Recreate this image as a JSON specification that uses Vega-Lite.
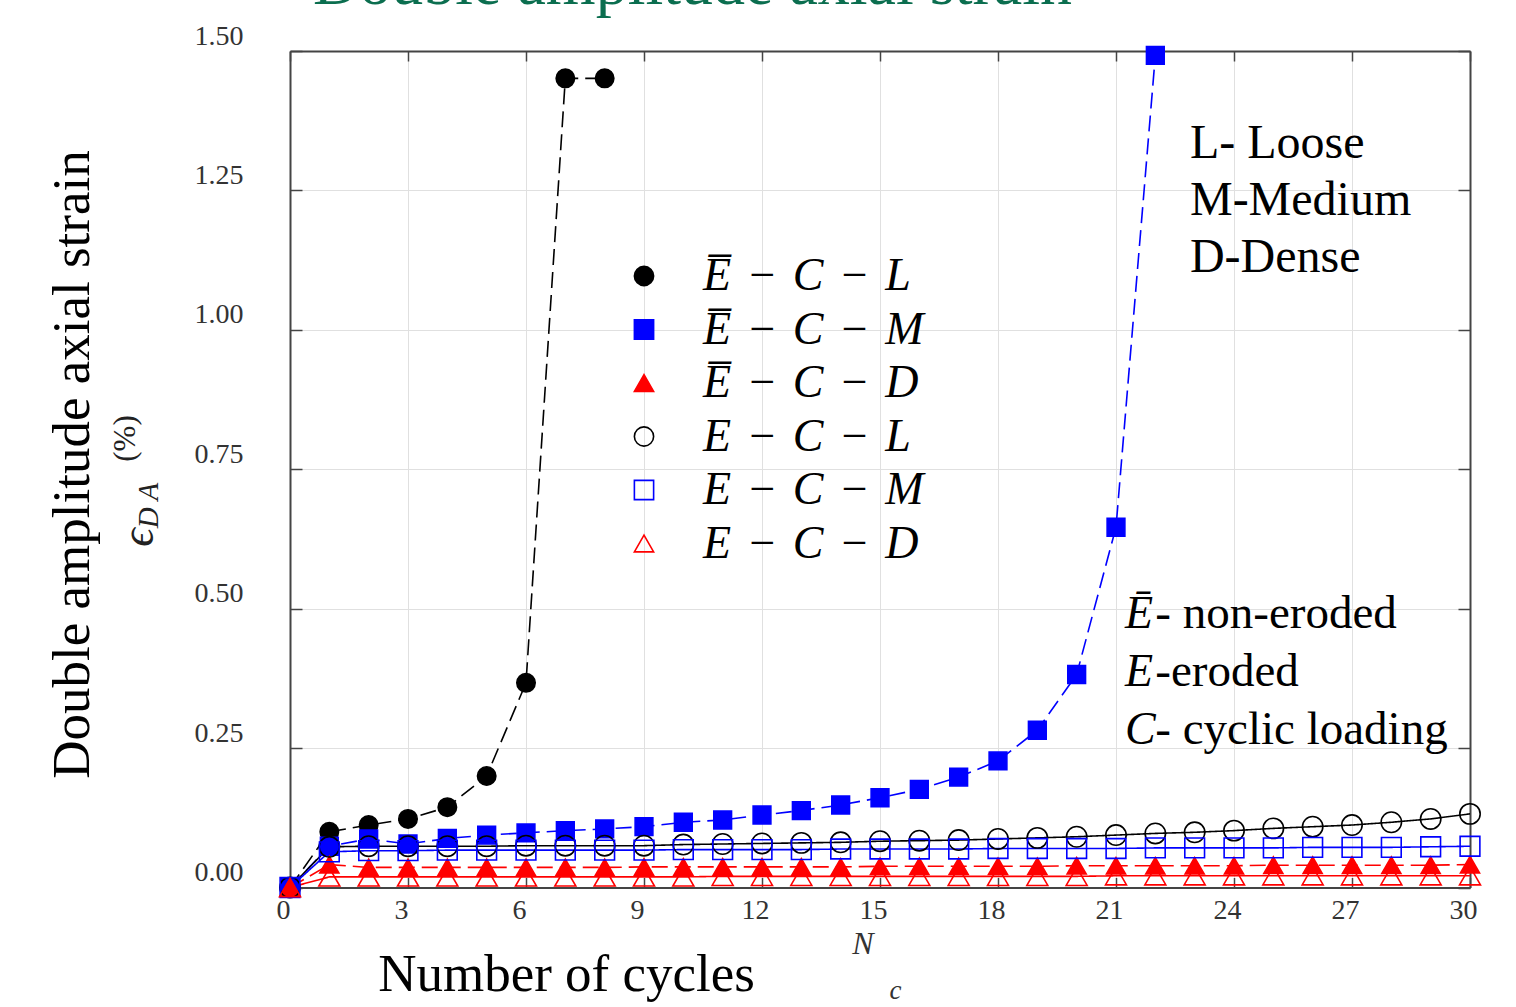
{
  "$schema": "https://vega.github.io/schema/vega-lite/v6.json",
  "width": 1180,
  "height": 836.5,
  "autosize": {"type": "none"},
  "padding": {"left": 290, "top": 51, "right": 46, "bottom": 119.5},
  "background": "white",
  "config": {
    "view": {"stroke": null},
    "font": "Liberation Serif",
    "axis": {"titleFontWeight": "normal", "labelFont": "Liberation Serif", "titleFont": "Liberation Serif"}
  },
  "data": {
    "values": [
      {"series": "E\u0305-C-L", "N": 0, "strain": 0},
      {"series": "E\u0305-C-L", "N": 1, "strain": 0.100},
      {"series": "E\u0305-C-L", "N": 2, "strain": 0.112},
      {"series": "E\u0305-C-L", "N": 3, "strain": 0.123},
      {"series": "E\u0305-C-L", "N": 4, "strain": 0.144},
      {"series": "E\u0305-C-L", "N": 5, "strain": 0.200},
      {"series": "E\u0305-C-L", "N": 6, "strain": 0.367},
      {"series": "E\u0305-C-L", "N": 7, "strain": 1.451},
      {"series": "E\u0305-C-L", "N": 8, "strain": 1.451},

      {"series": "E\u0305-C-M", "N": 0, "strain": 0},
      {"series": "E\u0305-C-M", "N": 1, "strain": 0.074},
      {"series": "E\u0305-C-M", "N": 2, "strain": 0.087},
      {"series": "E\u0305-C-M", "N": 3, "strain": 0.078},
      {"series": "E\u0305-C-M", "N": 4, "strain": 0.088},
      {"series": "E\u0305-C-M", "N": 5, "strain": 0.094},
      {"series": "E\u0305-C-M", "N": 6, "strain": 0.098},
      {"series": "E\u0305-C-M", "N": 7, "strain": 0.102},
      {"series": "E\u0305-C-M", "N": 8, "strain": 0.105},
      {"series": "E\u0305-C-M", "N": 9, "strain": 0.109},
      {"series": "E\u0305-C-M", "N": 10, "strain": 0.117},
      {"series": "E\u0305-C-M", "N": 11, "strain": 0.121},
      {"series": "E\u0305-C-M", "N": 12, "strain": 0.130},
      {"series": "E\u0305-C-M", "N": 13, "strain": 0.138},
      {"series": "E\u0305-C-M", "N": 14, "strain": 0.148},
      {"series": "E\u0305-C-M", "N": 15, "strain": 0.161},
      {"series": "E\u0305-C-M", "N": 16, "strain": 0.176},
      {"series": "E\u0305-C-M", "N": 17, "strain": 0.198},
      {"series": "E\u0305-C-M", "N": 18, "strain": 0.227},
      {"series": "E\u0305-C-M", "N": 19, "strain": 0.282},
      {"series": "E\u0305-C-M", "N": 20, "strain": 0.382},
      {"series": "E\u0305-C-M", "N": 21, "strain": 0.646},
      {"series": "E\u0305-C-M", "N": 22, "strain": 1.492},

      {"series": "E\u0305-C-D", "N": 0, "strain": 0},
      {"series": "E\u0305-C-D", "N": 1, "strain": 0.041},
      {"series": "E\u0305-C-D", "N": 2, "strain": 0.036},
      {"series": "E\u0305-C-D", "N": 3, "strain": 0.036},
      {"series": "E\u0305-C-D", "N": 4, "strain": 0.036},
      {"series": "E\u0305-C-D", "N": 5, "strain": 0.036},
      {"series": "E\u0305-C-D", "N": 6, "strain": 0.036},
      {"series": "E\u0305-C-D", "N": 7, "strain": 0.036},
      {"series": "E\u0305-C-D", "N": 8, "strain": 0.036},
      {"series": "E\u0305-C-D", "N": 9, "strain": 0.037},
      {"series": "E\u0305-C-D", "N": 10, "strain": 0.037},
      {"series": "E\u0305-C-D", "N": 11, "strain": 0.037},
      {"series": "E\u0305-C-D", "N": 12, "strain": 0.037},
      {"series": "E\u0305-C-D", "N": 13, "strain": 0.037},
      {"series": "E\u0305-C-D", "N": 14, "strain": 0.037},
      {"series": "E\u0305-C-D", "N": 15, "strain": 0.038},
      {"series": "E\u0305-C-D", "N": 16, "strain": 0.038},
      {"series": "E\u0305-C-D", "N": 17, "strain": 0.038},
      {"series": "E\u0305-C-D", "N": 18, "strain": 0.038},
      {"series": "E\u0305-C-D", "N": 19, "strain": 0.038},
      {"series": "E\u0305-C-D", "N": 20, "strain": 0.039},
      {"series": "E\u0305-C-D", "N": 21, "strain": 0.039},
      {"series": "E\u0305-C-D", "N": 22, "strain": 0.039},
      {"series": "E\u0305-C-D", "N": 23, "strain": 0.039},
      {"series": "E\u0305-C-D", "N": 24, "strain": 0.039},
      {"series": "E\u0305-C-D", "N": 25, "strain": 0.040},
      {"series": "E\u0305-C-D", "N": 26, "strain": 0.040},
      {"series": "E\u0305-C-D", "N": 27, "strain": 0.040},
      {"series": "E\u0305-C-D", "N": 28, "strain": 0.040},
      {"series": "E\u0305-C-D", "N": 29, "strain": 0.040},
      {"series": "E\u0305-C-D", "N": 30, "strain": 0.041},

      {"series": "E-C-L", "N": 0, "strain": 0},
      {"series": "E-C-L", "N": 1, "strain": 0.073},
      {"series": "E-C-L", "N": 2, "strain": 0.074},
      {"series": "E-C-L", "N": 3, "strain": 0.074},
      {"series": "E-C-L", "N": 4, "strain": 0.074},
      {"series": "E-C-L", "N": 5, "strain": 0.074},
      {"series": "E-C-L", "N": 6, "strain": 0.075},
      {"series": "E-C-L", "N": 7, "strain": 0.075},
      {"series": "E-C-L", "N": 8, "strain": 0.075},
      {"series": "E-C-L", "N": 9, "strain": 0.075},
      {"series": "E-C-L", "N": 10, "strain": 0.077},
      {"series": "E-C-L", "N": 11, "strain": 0.078},
      {"series": "E-C-L", "N": 12, "strain": 0.079},
      {"series": "E-C-L", "N": 13, "strain": 0.080},
      {"series": "E-C-L", "N": 14, "strain": 0.081},
      {"series": "E-C-L", "N": 15, "strain": 0.083},
      {"series": "E-C-L", "N": 16, "strain": 0.084},
      {"series": "E-C-L", "N": 17, "strain": 0.085},
      {"series": "E-C-L", "N": 18, "strain": 0.087},
      {"series": "E-C-L", "N": 19, "strain": 0.089},
      {"series": "E-C-L", "N": 20, "strain": 0.091},
      {"series": "E-C-L", "N": 21, "strain": 0.094},
      {"series": "E-C-L", "N": 22, "strain": 0.097},
      {"series": "E-C-L", "N": 23, "strain": 0.099},
      {"series": "E-C-L", "N": 24, "strain": 0.102},
      {"series": "E-C-L", "N": 25, "strain": 0.106},
      {"series": "E-C-L", "N": 26, "strain": 0.109},
      {"series": "E-C-L", "N": 27, "strain": 0.112},
      {"series": "E-C-L", "N": 28, "strain": 0.117},
      {"series": "E-C-L", "N": 29, "strain": 0.123},
      {"series": "E-C-L", "N": 30, "strain": 0.132},

      {"series": "E-C-M", "N": 0, "strain": 0},
      {"series": "E-C-M", "N": 1, "strain": 0.064},
      {"series": "E-C-M", "N": 2, "strain": 0.066},
      {"series": "E-C-M", "N": 3, "strain": 0.066},
      {"series": "E-C-M", "N": 4, "strain": 0.067},
      {"series": "E-C-M", "N": 5, "strain": 0.067},
      {"series": "E-C-M", "N": 6, "strain": 0.067},
      {"series": "E-C-M", "N": 7, "strain": 0.067},
      {"series": "E-C-M", "N": 8, "strain": 0.067},
      {"series": "E-C-M", "N": 9, "strain": 0.067},
      {"series": "E-C-M", "N": 10, "strain": 0.068},
      {"series": "E-C-M", "N": 11, "strain": 0.068},
      {"series": "E-C-M", "N": 12, "strain": 0.068},
      {"series": "E-C-M", "N": 13, "strain": 0.068},
      {"series": "E-C-M", "N": 14, "strain": 0.069},
      {"series": "E-C-M", "N": 15, "strain": 0.069},
      {"series": "E-C-M", "N": 16, "strain": 0.069},
      {"series": "E-C-M", "N": 17, "strain": 0.069},
      {"series": "E-C-M", "N": 18, "strain": 0.070},
      {"series": "E-C-M", "N": 19, "strain": 0.070},
      {"series": "E-C-M", "N": 20, "strain": 0.070},
      {"series": "E-C-M", "N": 21, "strain": 0.070},
      {"series": "E-C-M", "N": 22, "strain": 0.071},
      {"series": "E-C-M", "N": 23, "strain": 0.071},
      {"series": "E-C-M", "N": 24, "strain": 0.071},
      {"series": "E-C-M", "N": 25, "strain": 0.071},
      {"series": "E-C-M", "N": 26, "strain": 0.072},
      {"series": "E-C-M", "N": 27, "strain": 0.072},
      {"series": "E-C-M", "N": 28, "strain": 0.072},
      {"series": "E-C-M", "N": 29, "strain": 0.073},
      {"series": "E-C-M", "N": 30, "strain": 0.074},

      {"series": "E-C-D", "N": 0, "strain": 0},
      {"series": "E-C-D", "N": 1, "strain": 0.019},
      {"series": "E-C-D", "N": 2, "strain": 0.019},
      {"series": "E-C-D", "N": 3, "strain": 0.019},
      {"series": "E-C-D", "N": 4, "strain": 0.019},
      {"series": "E-C-D", "N": 5, "strain": 0.019},
      {"series": "E-C-D", "N": 6, "strain": 0.019},
      {"series": "E-C-D", "N": 7, "strain": 0.019},
      {"series": "E-C-D", "N": 8, "strain": 0.019},
      {"series": "E-C-D", "N": 9, "strain": 0.019},
      {"series": "E-C-D", "N": 10, "strain": 0.019},
      {"series": "E-C-D", "N": 11, "strain": 0.020},
      {"series": "E-C-D", "N": 12, "strain": 0.020},
      {"series": "E-C-D", "N": 13, "strain": 0.020},
      {"series": "E-C-D", "N": 14, "strain": 0.020},
      {"series": "E-C-D", "N": 15, "strain": 0.020},
      {"series": "E-C-D", "N": 16, "strain": 0.020},
      {"series": "E-C-D", "N": 17, "strain": 0.020},
      {"series": "E-C-D", "N": 18, "strain": 0.020},
      {"series": "E-C-D", "N": 19, "strain": 0.020},
      {"series": "E-C-D", "N": 20, "strain": 0.020},
      {"series": "E-C-D", "N": 21, "strain": 0.021},
      {"series": "E-C-D", "N": 22, "strain": 0.021},
      {"series": "E-C-D", "N": 23, "strain": 0.021},
      {"series": "E-C-D", "N": 24, "strain": 0.021},
      {"series": "E-C-D", "N": 25, "strain": 0.021},
      {"series": "E-C-D", "N": 26, "strain": 0.021},
      {"series": "E-C-D", "N": 27, "strain": 0.021},
      {"series": "E-C-D", "N": 28, "strain": 0.021},
      {"series": "E-C-D", "N": 29, "strain": 0.021},
      {"series": "E-C-D", "N": 30, "strain": 0.021}
    ]
  },
  "resolve": {"axis": {"x": "independent", "y": "independent"}},
  "layer": [
    {
      "mark": {"type": "line", "strokeWidth": 1.6},
      "encoding": {
        "x": {
          "field": "N", "type": "quantitative",
          "scale": {"domain": [0, 30], "nice": false, "zero": false},
          "axis": {
            "orient": "bottom",
            "values": [0, 3, 6, 9, 12, 15, 18, 21, 24, 27, 30],
            "format": "d",
            "labelFontSize": 28, "labelColor": "#333333",
            "labelBaseline": "alphabetic", "labelPadding": 40.5, "labelOffset": -7,
            "labelFlush": false, "labelOverlap": false,
            "tickSize": -10, "tickColor": "#444444", "tickWidth": 1.5,
            "domain": true, "domainColor": "#444444", "domainWidth": 2,
            "grid": true, "gridColor": "#e0e0e0", "gridWidth": 1,
            "title": "Number of cycles",
            "titleFontSize": 53, "titleColor": "#000000",
            "titleX": 276, "titleY": 102.5, "titleAlign": "center", "titleBaseline": "alphabetic"
          }
        },
        "y": {
          "field": "strain", "type": "quantitative",
          "scale": {"domain": [0, 1.5], "nice": false},
          "axis": {
            "orient": "left",
            "values": [0, 0.25, 0.5, 0.75, 1.0, 1.25, 1.5],
            "format": ".2f",
            "labelFontSize": 28, "labelColor": "#333333",
            "labelAlign": "right", "labelBaseline": "middle",
            "labelPadding": 59, "labelOffset": -15, "labelFlush": false, "labelOverlap": false,
            "tickSize": -12, "tickColor": "#444444", "tickWidth": 1.5,
            "domain": true, "domainColor": "#444444", "domainWidth": 2,
            "grid": true, "gridColor": "#e0e0e0", "gridWidth": 1,
            "title": "Double amplitude axial strain",
            "titleFontSize": 53, "titleColor": "#000000",
            "titleAngle": 270, "titleX": -202, "titleY": 413,
            "titleAlign": "center", "titleBaseline": "alphabetic"
          }
        },
        "color": {
          "field": "series", "type": "nominal",
          "scale": {
            "domain": ["E-C-D", "E-C-M", "E-C-L", "E\u0305-C-D", "E\u0305-C-M", "E\u0305-C-L"],
            "range": ["#ff0000", "#0000ff", "#000000", "#ff0000", "#0000ff", "#000000"]
          },
          "legend": null
        },
        "strokeDash": {
          "field": "series", "type": "nominal",
          "scale": {
            "domain": ["E-C-L", "E-C-M", "E-C-D", "E\u0305-C-L", "E\u0305-C-M", "E\u0305-C-D"],
            "range": [[1, 0], [1, 0], [1, 0], [16, 7], [16, 7], [16, 7]]
          },
          "legend": null
        }
      }
    },
    {
      "mark": {"type": "point", "opacity": 1, "strokeWidth": 1.6},
      "encoding": {
        "x": {
          "field": "N", "type": "quantitative",
          "axis": {
            "orient": "bottom", "labels": false, "ticks": false, "domain": false, "grid": false,
            "title": "N", "titleFontStyle": "italic", "titleFontSize": 32, "titleColor": "#333333",
            "titleX": 572.5, "titleY": 65.5, "titleAlign": "center", "titleBaseline": "alphabetic"
          }
        },
        "y": {
          "field": "strain", "type": "quantitative",
          "axis": {
            "orient": "left", "labels": false, "ticks": false, "domain": false, "grid": false,
            "title": "\u03f5", "titleFontStyle": "italic", "titleFontSize": 46, "titleColor": "#222222",
            "titleAngle": 270, "titleX": -138, "titleY": 486, "titleAlign": "center", "titleBaseline": "alphabetic"
          }
        },
        "shape": {
          "field": "series", "type": "nominal",
          "scale": {
            "domain": ["E\u0305-C-L", "E\u0305-C-M", "E\u0305-C-D", "E-C-L", "E-C-M", "E-C-D"],
            "range": ["circle", "square", "triangle-up", "circle", "square", "triangle-up"]
          },
          "legend": {
            "orient": "none", "legendX": 331, "legendY": 202, "title": null, "padding": 0,
            "labelFont": "Liberation Serif", "labelFontStyle": "italic", "labelFontSize": 46,
            "labelColor": "#000000", "labelOffset": 36, "labelLimit": 0,
            "labelExpr": "join(split(datum.label, '-'), '\u2004\u2212\u2004')",
            "symbolSize": 370, "symbolStrokeWidth": 1.6, "rowPadding": 7.5
          }
        },
        "stroke": {
          "field": "series", "type": "nominal",
          "scale": {
            "domain": ["E\u0305-C-L", "E\u0305-C-M", "E\u0305-C-D", "E-C-L", "E-C-M", "E-C-D"],
            "range": ["#000000", "#0000ff", "#ff0000", "#000000", "#0000ff", "#ff0000"]
          },
          "legend": {
            "orient": "none", "legendX": 331, "legendY": 202, "title": null, "padding": 0,
            "labelFont": "Liberation Serif", "labelFontStyle": "italic", "labelFontSize": 46,
            "labelColor": "#000000", "labelOffset": 36, "labelLimit": 0,
            "labelExpr": "join(split(datum.label, '-'), '\u2004\u2212\u2004')",
            "symbolSize": 370, "symbolStrokeWidth": 1.6, "rowPadding": 7.5
          }
        },
        "fill": {
          "field": "series", "type": "nominal",
          "scale": {
            "domain": ["E\u0305-C-L", "E\u0305-C-M", "E\u0305-C-D", "E-C-L", "E-C-M", "E-C-D"],
            "range": ["#000000", "#0000ff", "#ff0000", "transparent", "transparent", "transparent"]
          },
          "legend": {
            "orient": "none", "legendX": 331, "legendY": 202, "title": null, "padding": 0,
            "labelFont": "Liberation Serif", "labelFontStyle": "italic", "labelFontSize": 46,
            "labelColor": "#000000", "labelOffset": 36, "labelLimit": 0,
            "labelExpr": "join(split(datum.label, '-'), '\u2004\u2212\u2004')",
            "symbolSize": 370, "symbolStrokeWidth": 1.6, "rowPadding": 7.5
          }
        },
        "size": {
          "field": "series", "type": "nominal",
          "scale": {
            "domain": ["E-C-D", "E-C-L", "E-C-M", "E\u0305-C-D", "E\u0305-C-L", "E\u0305-C-M"],
            "range": [440, 314, 290, 440, 314, 290]
          },
          "legend": null
        }
      }
    },
    {
      "data": {"values": [{}]},
      "mark": {"type": "text", "align": "left", "baseline": "alphabetic", "font": "Liberation Serif", "fontSize": 48, "lineHeight": 57, "color": "#000000"},
      "encoding": {
        "x": {
          "datum": 22.88, "type": "quantitative",
          "axis": {
            "orient": "bottom", "labels": false, "ticks": false, "domain": false, "grid": false,
            "title": "c", "titleFontStyle": "italic", "titleFontSize": 27, "titleColor": "#333333",
            "titleX": 605, "titleY": 110.5, "titleAlign": "center", "titleBaseline": "alphabetic"
          }
        },
        "y": {
          "datum": 1.308, "type": "quantitative",
          "axis": {
            "orient": "left", "labels": false, "ticks": false, "domain": false, "grid": false,
            "title": "D A", "titleFontStyle": "italic", "titleFontSize": 29, "titleColor": "#222222",
            "titleAngle": 270, "titleX": -133, "titleY": 454, "titleAlign": "center", "titleBaseline": "alphabetic"
          }
        },
        "text": {"value": ["L- Loose", "M-Medium", "D-Dense"]}
      }
    },
    {
      "data": {"values": [{}]},
      "mark": {"type": "text", "align": "left", "baseline": "alphabetic", "font": "Liberation Serif", "fontStyle": "italic", "fontSize": 46, "lineHeight": 58, "color": "#000000"},
      "encoding": {
        "x": {
          "datum": 21.23, "type": "quantitative",
          "axis": {
            "orient": "top", "labels": false,
            "values": [0, 3, 6, 9, 12, 15, 18, 21, 24, 27, 30],
            "tickSize": -10, "tickColor": "#444444", "tickWidth": 1.5,
            "domain": true, "domainColor": "#444444", "domainWidth": 2, "grid": false,
            "title": "Double amplitude axial strain", "titleFontSize": 64, "titleColor": "#0b6e4f",
            "titleX": 402, "titleY": -48, "titleAlign": "center", "titleBaseline": "alphabetic"
          }
        },
        "y": {
          "datum": 0.4653, "type": "quantitative",
          "axis": {
            "orient": "left", "labels": false, "ticks": false, "domain": false, "grid": false,
            "title": "(%)", "titleFontSize": 31, "titleColor": "#222222",
            "titleAngle": 270, "titleX": -155.5, "titleY": 387, "titleAlign": "center", "titleBaseline": "alphabetic"
          }
        },
        "text": {"value": ["\u0112", "E", "C"]}
      }
    },
    {
      "data": {"values": [{}]},
      "mark": {"type": "text", "align": "left", "baseline": "alphabetic", "font": "Liberation Serif", "fontSize": 47, "lineHeight": 58, "color": "#000000"},
      "encoding": {
        "x": {"datum": 22.0, "type": "quantitative", "axis": null},
        "y": {
          "datum": 0.4653, "type": "quantitative",
          "axis": {
            "orient": "right", "labels": false,
            "values": [0, 0.25, 0.5, 0.75, 1.0, 1.25, 1.5],
            "tickSize": -12, "tickColor": "#444444", "tickWidth": 1.5,
            "domain": true, "domainColor": "#444444", "domainWidth": 2, "grid": false, "title": null
          }
        },
        "text": {"value": ["- non-eroded", "-eroded", "- cyclic loading"]}
      }
    }
  ]
}
